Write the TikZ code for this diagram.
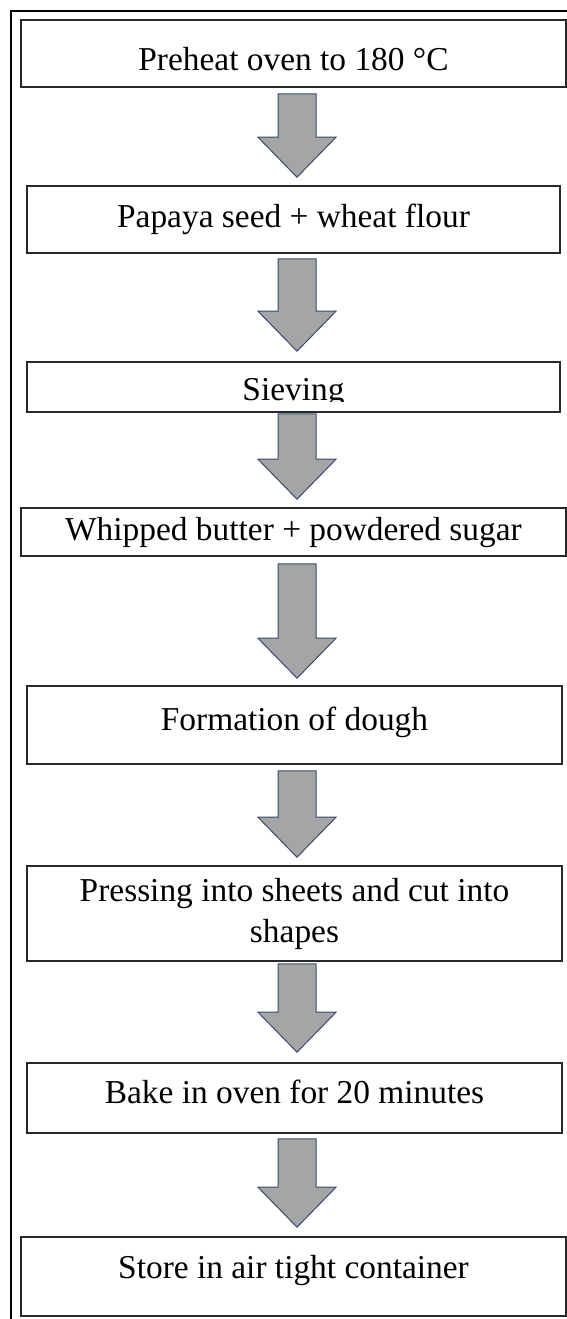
\documentclass[tikz,border=0pt]{standalone}
\usepackage{fontspec}
\setmainfont{Liberation Serif}
\usetikzlibrary{calc}
\definecolor{arrowgrey}{RGB}{165,165,165}
\definecolor{arrowedge}{RGB}{55,75,110}
\definecolor{boxedge}{RGB}{40,40,40}
\tikzset{
  stepbox/.style={rectangle, draw=boxedge, fill=white, line width=0.8pt, inner sep=2pt, align=center},
  textdrop/.style={text height=#1, text depth=0pt},
  blockarr/.style={fill=arrowgrey, draw=arrowedge, line width=0.5pt, line join=miter},
  frameline/.style={draw=black, line width=1pt},
}

\begin{document}
\begin{tikzpicture}[x=0.5pt, y=-0.5pt, font=\fontsize{16.7}{20.5}\selectfont]
  \useasboundingbox (0,0) rectangle (567,1319);
  \fill[white] (0,0) rectangle (567,1319);
  \draw[frameline] (11,1319) -- (11,11) -- (567,11);
  \coordinate (axis) at (297,0);
  \node[stepbox, textdrop=16.5pt, minimum width=272.5pt, minimum height=33.5pt] (pre) at (293.5,53.5) {Preheat oven to 180 °C};
  \node[stepbox, textdrop=7.5pt, minimum width=266.5pt, minimum height=33.5pt] (seed) at (293.5,219.5) {Papaya seed + wheat flour};
  \node[stepbox, minimum width=266.5pt, minimum height=25pt, path picture={
      \clip ([yshift=5.5pt]path picture bounding box.south west) rectangle (path picture bounding box.north east);
      \node[draw=none, fill=none, minimum width=0pt, minimum height=0pt, inner sep=0pt, anchor=base] at ([yshift=6pt]path picture bounding box.south) {Sieving};
    }] (sieve) at (293.5,387) {};
  \node[stepbox, textdrop=8pt, minimum width=272.5pt, minimum height=24pt] (whip) at (293.5,532) {Whipped butter + powdered sugar};
  \node[stepbox, textdrop=5pt, minimum width=267.5pt, minimum height=39pt] (dough) at (294.5,725) {Formation of dough};
  \node[stepbox, minimum width=267.5pt, minimum height=47.5pt] (press) at (294.5,913.5) {Pressing into sheets and cut into\\shapes};
  \node[stepbox, textdrop=5pt, minimum width=267.5pt, minimum height=35pt] (bake) at (294.5,1098) {Bake in oven for 20 minutes};
  \node[stepbox, textdrop=1.5pt, minimum width=272.5pt, minimum height=39.5pt] (store) at (293.5,1276.5) {Store in air tight container};
  \foreach \a/\b/\s/\t in {pre/seed/6/8, seed/sieve/5/10, sieve/whip/1/8, whip/dough/7/7, dough/press/6/8, press/bake/2/10, bake/store/5/9}{
    \coordinate (top) at ($(axis |- \a.south)+(0,\s)$);
    \coordinate (tip) at ($(axis |- \b.north)+(0,-\t)$);
    \filldraw[blockarr] ($(top)+(-19,0)$) -- ($(top)+(19,0)$) -- ($(tip)+(19,-40)$) -- ($(tip)+(39,-40)$)
      -- (tip) -- ($(tip)+(-39,-40)$) -- ($(tip)+(-19,-40)$) -- cycle;
  }
\end{tikzpicture}
\end{document}
